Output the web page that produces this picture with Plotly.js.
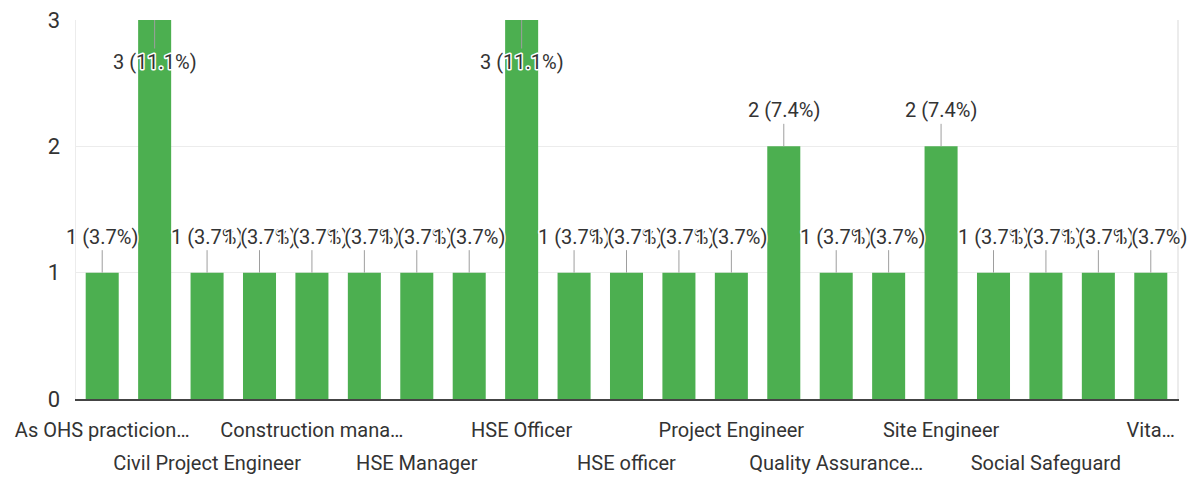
<!DOCTYPE html>
<html>
<head>
<meta charset="utf-8">
<script src="https://cdn.plot.ly/plotly-3.0.1.min.js"></script>
<style>
html,body{margin:0;padding:0;background:#fff;}
#chart{width:1191px;height:481px;}
.annotation-text{stroke:#ffffff;stroke-width:3px;stroke-linejoin:round;paint-order:stroke fill;}
</style>
</head>
<body>
<div id="chart"></div>
<script>
// Categories (odd ones are not labelled in the reference; names guessed)
const categories = [
  "As OHS practicion…", "Civil Engineer", "Civil Project Engineer", "Construction Engineer",
  "Construction mana…", "Environmental Officer", "HSE Manager", "HSE Lead",
  "HSE Officer", "HSE Supervisor", "HSE officer", "OHS Officer",
  "Project Engineer", "Project Manager", "Quality Assurance…", "Safety Officer",
  "Site Engineer", "Site Manager", "Social Safeguard", "Structural Engineer", "Vita…"
];
const values = [1, 3, 1, 1, 1, 1, 1, 1, 3, 1, 1, 1, 1, 2, 1, 1, 2, 1, 1, 1, 1];
// tick labels on two rows
const topRowLabels = ["As OHS practicion…", "Construction mana…", "HSE Officer", "Project Engineer", "Site Engineer", "Vita…"];
const bottomRowLabels = ["Civil Project Engineer", "HSE Manager", "HSE officer", "Quality Assurance…", "Social Safeguard"];
const yTicks = [0, 1, 2, 3];

const total = values.reduce((a, b) => a + b, 0);
const yMax = 3;
const xRange = [-0.5, categories.length - 0.5];
const txtColor = '#333333';
const fontFam = 'Roboto, Arial, sans-serif';

const annotations = categories.map((c, i) => ({
  x: c, y: values[i], xref: 'x', yref: 'y',
  text: values[i] + ' (' + (values[i] / total * 100).toFixed(1) + '%)',
  showarrow: true, arrowhead: 0, arrowwidth: 1, arrowcolor: '#9e9e9e',
  ax: 0, ay: values[i] >= yMax ? 42 : -36,
  font: {family: fontFam, size: 20, color: txtColor}
}));

const data = [
  {
    type: 'bar', x: categories, y: values,
    marker: {color: '#4caf50'}, hoverinfo: 'x+y'
  },
  {
    type: 'scatter', mode: 'none', x: categories, y: values,
    xaxis: 'x2', yaxis: 'y', hoverinfo: 'skip', showlegend: false
  }
];

const layout = {
  width: 1191, height: 481,
  margin: {l: 76, r: 14, t: 20, b: 82},
  paper_bgcolor: '#ffffff', plot_bgcolor: '#ffffff',
  showlegend: false,
  bargap: 0.37,
  font: {family: fontFam, size: 20, color: txtColor},
  xaxis: {
    type: 'category', categoryorder: 'array', categoryarray: categories,
    range: xRange, autorange: false,
    tickvals: topRowLabels, ticktext: topRowLabels,
    showgrid: false, zeroline: false,
    showline: true, linecolor: '#444444', linewidth: 1.5,
    ticks: '', ticklabelstandoff: 12,
    tickfont: {family: fontFam, size: 20, color: txtColor},
    tickangle: 0, fixedrange: true
  },
  xaxis2: {
    type: 'category', categoryorder: 'array', categoryarray: categories,
    overlaying: 'x', anchor: 'y', side: 'bottom',
    range: xRange, autorange: false,
    tickvals: bottomRowLabels, ticktext: bottomRowLabels,
    showgrid: false, zeroline: false, showline: false,
    ticks: '', ticklabelstandoff: 50,
    tickfont: {family: fontFam, size: 20, color: txtColor},
    tickangle: 0, fixedrange: true
  },
  yaxis: {
    range: [0, yMax], tickvals: yTicks, ticktext: yTicks.map(String),
    showgrid: true, gridcolor: '#ececec', gridwidth: 1.5,
    zeroline: false,
    showline: true, linecolor: '#ececec', linewidth: 1.5, mirror: true,
    ticks: '', ticklabelstandoff: 10,
    tickfont: {family: fontFam, size: 22, color: txtColor},
    fixedrange: true
  },
  annotations: annotations
};

Plotly.newPlot('chart', data, layout, {displayModeBar: false, staticPlot: true});
</script>
</body>
</html>
